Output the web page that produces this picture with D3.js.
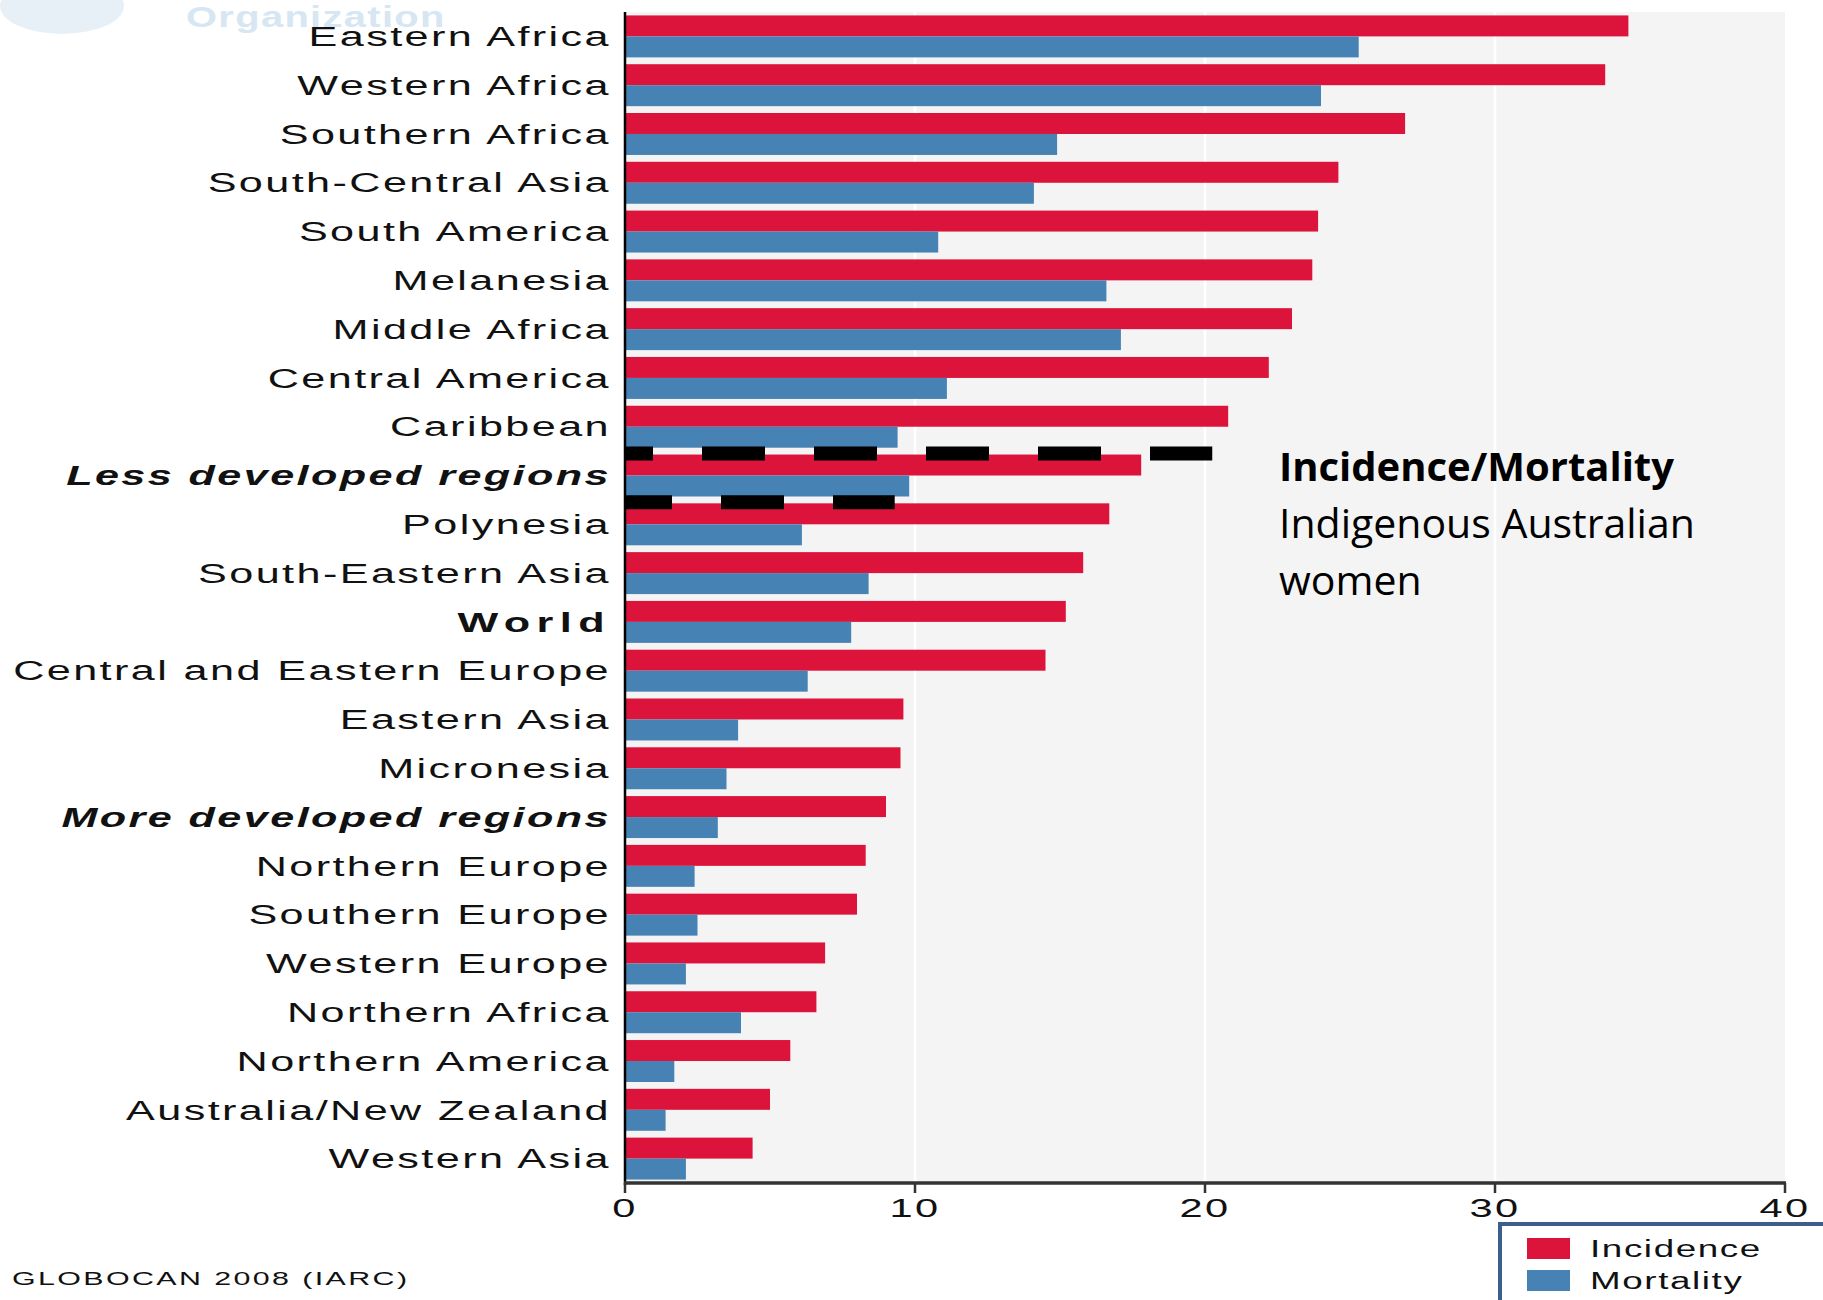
<!DOCTYPE html>
<html lang="en">
<head>
    <meta charset="UTF-8">
    <script src="https://cdnjs.cloudflare.com/ajax/libs/d3/7.8.5/d3.min.js"></script>
    <title>Cervical cancer incidence / mortality by region</title>
    <style>
        body { margin: 0; background: #fff; }
        svg { display: block; }
    </style>
</head>
<body>
<script>

    // data (age-standardised rate per 100,000)
    let regions = ["Eastern Africa", "Western Africa", "Southern Africa", "South-Central Asia",
        "South America", "Melanesia", "Middle Africa", "Central America", "Caribbean",
        "Less developed regions", "Polynesia", "South-Eastern Asia", "World",
        "Central and Eastern Europe", "Eastern Asia", "Micronesia", "More developed regions",
        "Northern Europe", "Southern Europe", "Western Europe", "Northern Africa",
        "Northern America", "Australia/New Zealand", "Western Asia"];
    let incidence = [34.6, 33.8, 26.9, 24.6, 23.9, 23.7, 23.0, 22.2, 20.8, 17.8, 16.7, 15.8, 15.2,
        14.5, 9.6, 9.5, 9.0, 8.3, 8.0, 6.9, 6.6, 5.7, 5.0, 4.4];
    let mortality = [25.3, 24.0, 14.9, 14.1, 10.8, 16.6, 17.1, 11.1, 9.4, 9.8, 6.1, 8.4, 7.8,
        6.3, 3.9, 3.5, 3.2, 2.4, 2.5, 2.1, 4.0, 1.7, 1.4, 2.1];
    let boldItalic = ["Less developed regions", "More developed regions"];
    let boldOnly = ["World"];
    let xTicks = [0, 10, 20, 30, 40];
    let series = ["Incidence", "Mortality"];
    let colors = ["#dc143c", "#4682b4"];

    // dashed "Indigenous Australian women" markers: row they sit above, and end value
    let dashRows = ["Less developed regions", "Polynesia"];
    let dashEnds = [20.25, 9.3];
    let dashOffsets = [35, 16];

    let noteLines = ["Incidence/Mortality", "Indigenous Australian", "women"];

    let W = 1823, H = 1300;
    let svg = d3.select("body").append("svg").attr("width", W).attr("height", H);

    let x = d3.scaleLinear().domain([0, 40]).range([625, 1785]);
    let y = d3.scaleBand().domain(regions).range([12, 1183]).paddingInner(0.14).paddingOuter(0.07);
    let sub = d3.scaleBand().domain(series).range([0, y.bandwidth()]);

    let labelFont = "'Liberation Sans', Arial, sans-serif";
    let stretch = 1.6;

    // faint WHO watermark, cut off at the top
    svg.append("ellipse").attr("cx", 62).attr("cy", 6).attr("rx", 62).attr("ry", 28)
        .style("fill", "#e8f0f7");
    svg.append("text").attr("transform", "translate(186,27) scale(1.33,1)")
        .style("font-family", labelFont).style("font-weight", "bold").style("font-size", "30px")
        .style("letter-spacing", "1px")
        .style("fill", "#d6e6f2").text("Organization");

    // plot background + grid
    svg.append("rect").attr("x", x(0)).attr("y", 12).attr("width", x(40) - x(0)).attr("height", 1183 - 12)
        .style("fill", "#f4f4f4");
    svg.selectAll(".grid").data(xTicks.slice(1, -1)).enter().append("line")
        .attr("x1", d => x(d)).attr("x2", d => x(d)).attr("y1", 12).attr("y2", 1183)
        .style("stroke", "#fff").style("stroke-width", 2.5);

    // bars
    let rows = svg.selectAll(".row").data(regions).enter().append("g")
        .attr("transform", d => "translate(0," + y(d) + ")");
    rows.append("rect").attr("x", x(0)).attr("y", sub("Incidence"))
        .attr("width", (d, i) => x(incidence[i]) - x(0)).attr("height", sub.bandwidth())
        .style("fill", colors[0]);
    rows.append("rect").attr("x", x(0)).attr("y", sub("Mortality"))
        .attr("width", (d, i) => x(mortality[i]) - x(0)).attr("height", sub.bandwidth())
        .style("fill", colors[1]);

    // category labels
    svg.selectAll(".lab").data(regions).enter().append("text")
        .attr("transform", d => "translate(611," + (y(d) + y.bandwidth() / 2) + ") scale(" + stretch + ",1)")
        .attr("dy", "0.36em")
        .style("text-anchor", "end")
        .style("font-family", labelFont).style("font-size", "27px")
        .style("font-weight", d => (boldItalic.includes(d) || boldOnly.includes(d)) ? "bold" : "normal")
        .style("font-style", d => boldItalic.includes(d) ? "italic" : "normal")
        .style("letter-spacing", d => boldOnly.includes(d) ? "4px" : "1.5px")
        .style("fill", "#111")
        .text(d => d);

    // dashed markers
    svg.selectAll(".dash").data(dashRows).enter().append("line")
        .attr("x1", x(0)).attr("x2", (d, i) => x(dashEnds[i]))
        .attr("y1", d => y(d) - 1).attr("y2", d => y(d) - 1)
        .style("stroke", "#000").style("stroke-width", 14)
        .style("stroke-dasharray", "63 49")
        .style("stroke-dashoffset", (d, i) => dashOffsets[i]);

    // axes
    svg.append("line").attr("x1", x(0)).attr("x2", x(0)).attr("y1", 12).attr("y2", 1185)
        .style("stroke", "#000").style("stroke-width", 2.5);
    svg.append("line").attr("x1", x(0) - 1).attr("x2", x(40) + 1).attr("y1", 1183).attr("y2", 1183)
        .style("stroke", "#333").style("stroke-width", 3.5);
    svg.selectAll(".tick").data(xTicks).enter().append("line")
        .attr("x1", d => x(d)).attr("x2", d => x(d)).attr("y1", 1183).attr("y2", 1193)
        .style("stroke", "#333").style("stroke-width", 2.5);
    svg.selectAll(".ticklab").data(xTicks).enter().append("text")
        .attr("transform", d => "translate(" + x(d) + ",1217) scale(" + stretch + ",1)")
        .style("text-anchor", "middle")
        .style("font-family", labelFont).style("font-size", "26px").style("letter-spacing", "1.5px")
        .style("fill", "#111")
        .text(d => d);

    // annotation
    let note = svg.append("text").attr("x", 1279).attr("y", 481)
        .style("font-family", "'Open Sans', 'Noto Sans', sans-serif").style("fill", "#000");
    note.selectAll("tspan").data(noteLines).enter().append("tspan")
        .attr("x", 1279).attr("dy", (d, i) => i === 0 ? 0 : 57)
        .style("font-size", (d, i) => i === 0 ? "40px" : "41px")
        .style("font-weight", (d, i) => i === 0 ? "bold" : "normal")
        .text(d => d);

    // legend (runs off the page edge)
    let leg = svg.append("g");
    leg.append("rect").attr("x", 1500).attr("y", 1224).attr("width", 400).attr("height", 120)
        .style("fill", "#fff").style("stroke", "#3b5e8c").style("stroke-width", 4);
    series.forEach(function(s, i) {
        leg.append("rect").attr("x", 1527).attr("y", 1238 + i * 32).attr("width", 43).attr("height", 21)
            .style("fill", colors[i]);
        leg.append("text")
            .attr("transform", "translate(1590," + (1257 + i * 32) + ") scale(" + stretch + ",1)")
            .style("font-family", labelFont).style("font-size", "23px").style("letter-spacing", "1px")
            .style("fill", "#111")
            .text(s);
    });

    // source
    svg.append("text")
        .attr("transform", "translate(12,1285) scale(" + stretch + ",1)")
        .style("font-family", labelFont).style("font-size", "19px").style("letter-spacing", "1.5px")
        .style("fill", "#111")
        .text("GLOBOCAN 2008 (IARC)");

</script>
</body>
</html>
